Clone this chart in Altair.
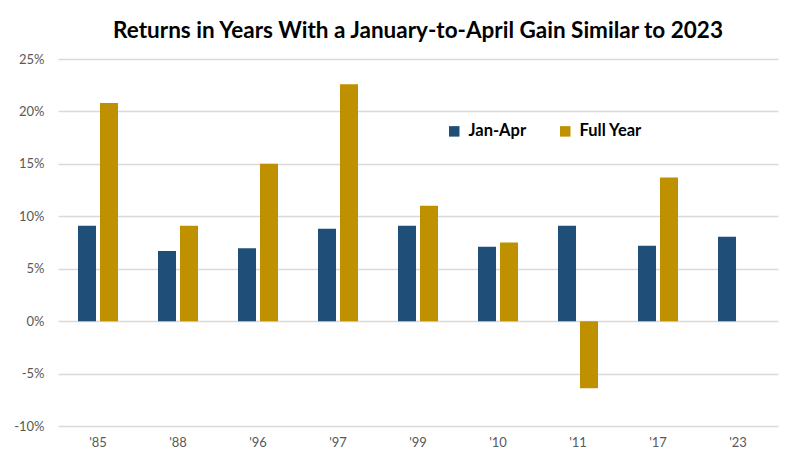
import altair as alt
import pandas as pd

years = ["'85", "'88", "'96", "'97", "'99", "'10", "'11", "'17", "'23"]
jan_apr = [9.1, 6.7, 6.95, 8.8, 9.1, 7.1, 9.1, 7.2, 8.05]
full_year = [20.8, 9.1, 15.0, 22.6, 11.0, 7.5, -6.4, 13.7, None]
series = ["Jan-Apr", "Full Year"]
colors = ["#1F4E79", "#BF9000"]

rows = []
for y, a, f in zip(years, jan_apr, full_year):
    rows.append({"year": y, "series": series[0], "value": a})
    if f is not None:
        rows.append({"year": y, "series": series[1], "value": f})
df = pd.DataFrame(rows)

FONT = "Lato"

chart = alt.Chart(df).mark_bar().encode(
    x=alt.X("year:N", sort=years, title=None,
            scale=alt.Scale(paddingInner=0.5, paddingOuter=0.25),
            axis=alt.Axis(labelAngle=0, domain=False, ticks=False, labelPadding=10,
                          labelFontSize=13, labelColor="#595959", labelFont=FONT)),
    xOffset=alt.XOffset("series:N", sort=series,
                        scale=alt.Scale(domain=series, paddingInner=0.18, paddingOuter=0)),
    y=alt.Y("value:Q", title=None,
            scale=alt.Scale(domain=[-10, 25], nice=False),
            axis=alt.Axis(values=[-10, -5, 0, 5, 10, 15, 20, 25], labelExpr="datum.value + '%'",
                          domain=False, ticks=False, labelPadding=14, gridColor="#d9d9d9",
                          gridWidth=1.3, labelFontSize=13, labelColor="#595959", labelFont=FONT)),
    color=alt.Color("series:N", sort=series,
                    scale=alt.Scale(domain=series, range=colors),
                    legend=alt.Legend(title=None, orient="none", legendX=388, legendY=64,
                                      direction="horizontal", symbolType="square", symbolSize=110,
                                      symbolStrokeWidth=0, labelFontSize=16.5, labelFontWeight="bold",
                                      labelColor="#000000", labelFont=FONT, columnPadding=30,
                                      labelOffset=6)),
).properties(
    width=720, height=367,
    title=alt.Title("Returns in Years With a January-to-April Gain Similar to 2023",
                    fontSize=22.5, fontWeight="bold", font=FONT, color="#000000", offset=11),
    autosize=alt.AutoSizeParams(type="none"),
    padding={"left": 50, "top": 51, "right": 14, "bottom": 33},
).configure_view(stroke=None)

chart.save("out.html", embed_options={"renderer": "svg", "actions": False})
